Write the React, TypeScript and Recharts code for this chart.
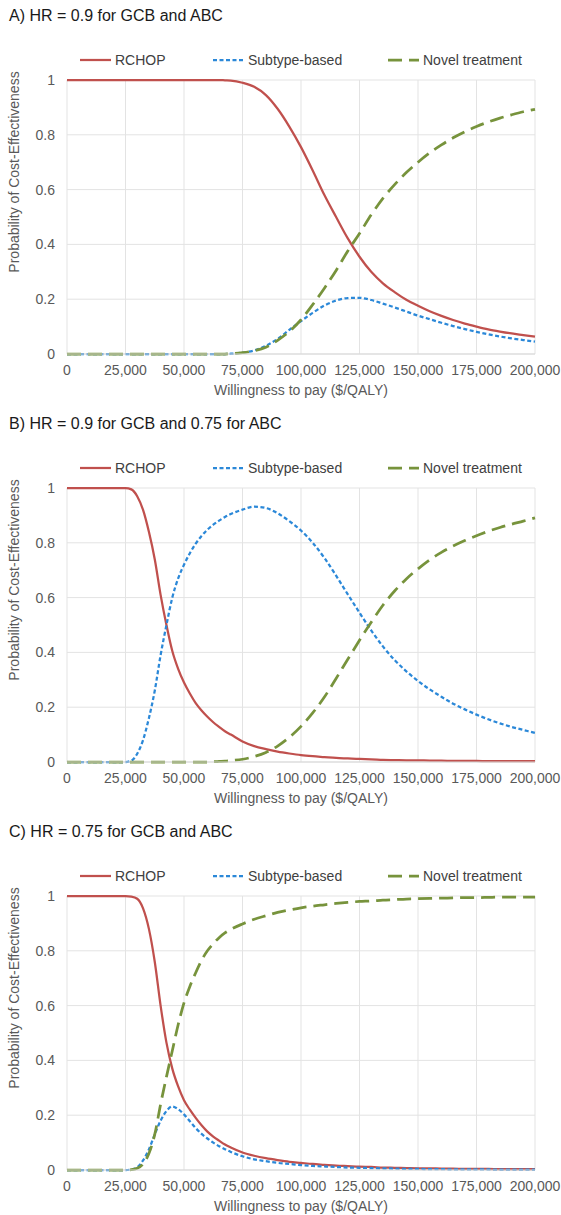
import { LineChart, Line, XAxis, YAxis, CartesianGrid, Legend } from "recharts";

// willingness to pay ($/QALY); finer steps where the curves turn quickly
const wtp = [
  0, 5000, 10000, 15000, 20000, 25000,
  27500, 30000, 32500, 35000, 37500, 40000, 42500, 45000, 47500, 50000,
  52500, 55000, 57500, 60000, 62500, 65000, 67500, 70000,
  75000, 80000, 85000, 90000, 95000, 100000,
  105000, 110000, 115000, 120000, 125000, 130000, 135000, 140000, 145000, 150000,
  155000, 160000, 165000, 170000, 175000, 180000, 185000, 190000, 195000, 200000,
];
const xTicks = [0, 25000, 50000, 75000, 100000, 125000, 150000, 175000, 200000];
const yTicks = [0, 0.2, 0.4, 0.6, 0.8, 1];

// A) HR = 0.9 for GCB and ABC
const rchopA = [
  1, 1, 1, 1, 1, 1,
  1, 1, 1, 1, 1, 1, 1, 1, 1, 1,
  1, 1, 1, 1, 1, 1, 0.999, 0.998,
  0.99, 0.975, 0.945, 0.895, 0.83, 0.755,
  0.67, 0.58, 0.5, 0.422, 0.355, 0.3, 0.258, 0.226, 0.198, 0.176,
  0.156, 0.139, 0.124, 0.111, 0.1, 0.09, 0.082, 0.075, 0.069, 0.063,
];
const subtypeA = [
  0, 0, 0, 0, 0, 0,
  0, 0, 0, 0, 0, 0, 0, 0, 0, 0,
  0, 0, 0, 0, 0, 0, 0, 0.001,
  0.005, 0.013, 0.03, 0.055, 0.088, 0.12,
  0.15, 0.177, 0.195, 0.204, 0.205, 0.197, 0.184, 0.17, 0.155, 0.14,
  0.127, 0.114, 0.102, 0.091, 0.081, 0.072, 0.064, 0.057, 0.051, 0.045,
];
const novelA = [
  0, 0, 0, 0, 0, 0,
  0, 0, 0, 0, 0, 0, 0, 0, 0, 0,
  0, 0, 0, 0, 0, 0, 0, 0.001,
  0.005, 0.012, 0.025, 0.05, 0.082, 0.125,
  0.18, 0.24, 0.305, 0.376, 0.44, 0.508, 0.568, 0.618, 0.662, 0.7,
  0.734, 0.763, 0.789, 0.811, 0.83, 0.847, 0.861, 0.873, 0.884, 0.893,
];

// B) HR = 0.9 for GCB and 0.75 for ABC
const rchopB = [
  1, 1, 1, 1, 1, 1,
  0.995, 0.97, 0.92, 0.84, 0.74, 0.61, 0.5, 0.405, 0.34, 0.29,
  0.25, 0.215, 0.188, 0.165, 0.145, 0.128, 0.112, 0.1,
  0.075, 0.058, 0.047, 0.038, 0.031, 0.025,
  0.021, 0.018, 0.015, 0.013, 0.011, 0.01, 0.008, 0.007, 0.006, 0.006,
  0.005, 0.005, 0.004, 0.004, 0.004, 0.003, 0.003, 0.003, 0.003, 0.003,
];
const subtypeB = [
  0, 0, 0, 0, 0, 0,
  0.005, 0.03, 0.08, 0.16, 0.26, 0.39, 0.5, 0.6, 0.67, 0.72,
  0.762, 0.797, 0.825, 0.848, 0.866, 0.881, 0.894, 0.905,
  0.921, 0.932, 0.927, 0.908, 0.879, 0.845,
  0.8, 0.745, 0.68, 0.612, 0.545, 0.48, 0.422, 0.372, 0.331, 0.296,
  0.265, 0.238, 0.213, 0.192, 0.173, 0.156, 0.141, 0.128, 0.117, 0.106,
];
const novelB = [
  0, 0, 0, 0, 0, 0,
  0, 0, 0, 0, 0, 0, 0, 0, 0, 0,
  0, 0, 0, 0, 0.001, 0.002, 0.003, 0.005,
  0.01, 0.02, 0.035, 0.058, 0.09, 0.13,
  0.179, 0.237, 0.305, 0.375, 0.444, 0.51, 0.572, 0.624, 0.668, 0.705,
  0.738, 0.765, 0.788, 0.808, 0.826, 0.842, 0.856, 0.868, 0.879, 0.891,
];

// C) HR = 0.75 for GCB and ABC
const rchopC = [
  1, 1, 1, 1, 1, 1,
  0.998, 0.99, 0.955, 0.88, 0.76, 0.6, 0.465, 0.37, 0.305, 0.255,
  0.22, 0.19, 0.163, 0.14, 0.122, 0.107, 0.093, 0.082,
  0.064, 0.052, 0.043, 0.036, 0.03, 0.026,
  0.022, 0.019, 0.016, 0.014, 0.012, 0.011, 0.009, 0.008, 0.007, 0.006,
  0.006, 0.005, 0.005, 0.004, 0.004, 0.004, 0.003, 0.003, 0.003, 0.003,
];
const subtypeC = [
  0, 0, 0, 0, 0, 0,
  0.002, 0.01, 0.035, 0.075, 0.13, 0.18, 0.215, 0.232, 0.222, 0.203,
  0.178, 0.153, 0.132, 0.115, 0.1, 0.087, 0.076, 0.066,
  0.05, 0.039, 0.032, 0.026, 0.022, 0.018,
  0.015, 0.013, 0.011, 0.009, 0.008, 0.007, 0.006, 0.005, 0.004, 0.004,
  0.003, 0.003, 0.002, 0.002, 0.002, 0.002, 0.001, 0.001, 0.001, 0.001,
];
const novelC = [
  0, 0, 0, 0, 0, 0,
  0.001, 0.006, 0.022, 0.06, 0.13, 0.24, 0.34, 0.435, 0.53, 0.61,
  0.67, 0.72, 0.765, 0.8, 0.826, 0.848, 0.865, 0.878,
  0.898, 0.915, 0.928, 0.94, 0.949, 0.957,
  0.963, 0.968, 0.973, 0.977, 0.98, 0.982, 0.985, 0.987, 0.989, 0.99,
  0.991, 0.992, 0.993, 0.994, 0.994, 0.995, 0.996, 0.996, 0.996, 0.996,
];

const titles = [
  "A) HR = 0.9 for GCB and ABC",
  "B) HR = 0.9 for GCB and 0.75 for ABC",
  "C) HR = 0.75 for GCB and ABC",
];

const SERIES = [
  { key: "rchop", name: "RCHOP", color: "#C0504D", width: 2.25, dash: undefined },
  { key: "subtype", name: "Subtype-based", color: "#2B88D8", width: 2.25, dash: "4 2.5" },
  { key: "novel", name: "Novel treatment", color: "#77933C", width: 2.75, dash: "14 7" },
];

const buildRows = (r: number[], s: number[], n: number[]) =>
  wtp.map((x, i) => ({ x, rchop: r[i], subtype: s[i], novel: n[i] }));

const panels = [
  buildRows(rchopA, subtypeA, novelA),
  buildRows(rchopB, subtypeB, novelB),
  buildRows(rchopC, subtypeC, novelC),
];

const FONT = '"Liberation Sans", Arial, sans-serif';
const TICK_COLOR = "#595959";
const legendX = [80, 213, 388];

function renderLegend() {
  return (
    <div style={{ position: "relative", width: 561, height: 20, fontFamily: FONT }}>
      {SERIES.map((s, i) => (
        <div
          key={s.key}
          style={{
            position: "absolute",
            left: legendX[i],
            top: 0,
            height: 20,
            display: "flex",
            alignItems: "center",
          }}
        >
          <svg width={31} height={6}>
            <line x1={0} y1={3} x2={31} y2={3} stroke={s.color} strokeWidth={s.width} strokeDasharray={s.dash} />
          </svg>
          <span style={{ marginLeft: 4, fontSize: 14, color: "#404040", whiteSpace: "nowrap" }}>{s.name}</span>
        </div>
      ))}
    </div>
  );
}

const yTitle = (props: any) => {
  const vb = props.viewBox || { y: 80 };
  const cy = vb.y + 92;
  return (
    <text
      x={14}
      y={cy}
      transform={`rotate(-90, 14, ${cy})`}
      textAnchor="middle"
      dominantBaseline="central"
      fontSize={14}
      fill={TICK_COLOR}
      fontFamily={FONT}
    >
      Probability of Cost-Effectiveness
    </text>
  );
};

const xTitle = (props: any) => {
  const vb = props.viewBox || { x: 67, y: 354, width: 468 };
  return (
    <text
      x={vb.x + vb.width / 2}
      y={vb.y + 36}
      textAnchor="middle"
      dominantBaseline="central"
      fontSize={14}
      fill={TICK_COLOR}
      fontFamily={FONT}
    >
      Willingness to pay ($/QALY)
    </text>
  );
};

function Panel({ data, title }: { data: any[]; title: string }) {
  return (
    <div style={{ position: "relative", width: 561, height: 408 }}>
      <div
        style={{
          position: "absolute",
          left: 9,
          top: 8,
          fontSize: 16,
          lineHeight: "16px",
          color: "#1a1a1a",
          fontFamily: FONT,
          whiteSpace: "nowrap",
        }}
      >
        {title}
      </div>
      <LineChart width={561} height={408} data={data} margin={{ top: 80, right: 26, bottom: 14, left: 0 }}>
        <CartesianGrid stroke="#E3E3E3" strokeWidth={1} />
        <XAxis
          dataKey="x"
          type="number"
          domain={[0, 200000]}
          ticks={xTicks}
          tickFormatter={(v: number) => v.toLocaleString("en-US")}
          tick={{ fontSize: 14, fill: TICK_COLOR, fontFamily: FONT }}
          tickLine={false}
          tickSize={0}
          tickMargin={11}
          axisLine={{ stroke: "#D9D9D9" }}
          height={40}
          interval={0}
          label={xTitle}
        />
        <YAxis
          type="number"
          domain={[0, 1]}
          ticks={yTicks}
          tick={{ fontSize: 14, fill: TICK_COLOR, fontFamily: FONT }}
          tickLine={false}
          axisLine={false}
          tickSize={0}
          tickMargin={12}
          width={67}
          label={yTitle}
        />
        <Legend
          verticalAlign="middle"
          align="center"
          layout="horizontal"
          content={renderLegend}
          wrapperStyle={{ top: 50, left: 0, width: 561, height: 20 }}
        />
        {SERIES.map((s) => (
          <Line
            key={s.key}
            type="monotone"
            dataKey={s.key}
            name={s.name}
            stroke={s.color}
            strokeWidth={s.width}
            strokeDasharray={s.dash}
            dot={false}
            activeDot={false}
            isAnimationActive={false}
          />
        ))}
      </LineChart>
    </div>
  );
}

export default function App() {
  return (
    <div
      style={{
        position: "absolute",
        left: 0,
        top: 0,
        width: 561,
        height: 1215,
        background: "#fff",
        fontFamily: FONT,
      }}
    >
      {panels.map((data, i) => (
        <Panel key={titles[i]} data={data} title={titles[i]} />
      ))}
    </div>
  );
}
